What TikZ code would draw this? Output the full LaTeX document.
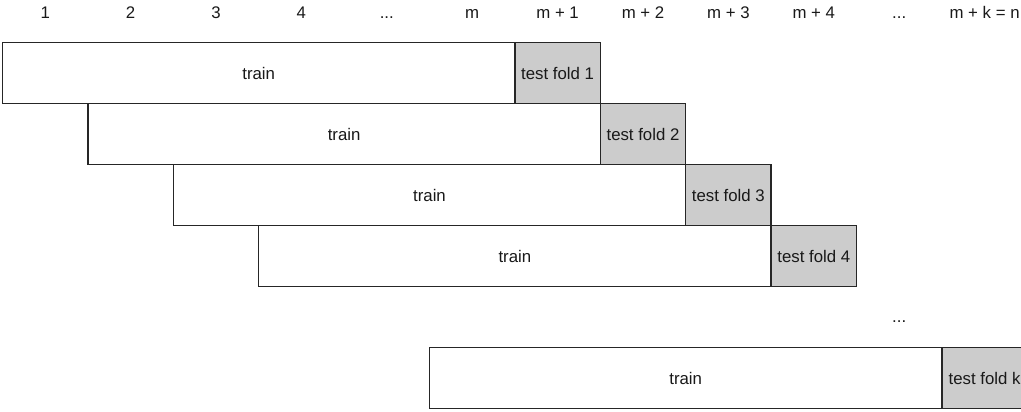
\documentclass[tikz,border=0pt]{standalone}
\usepackage{fontspec}
\setmainfont{Liberation Sans}
\begin{document}
\begin{tikzpicture}[x=1pt,y=-1pt,
  every node/.style={font=\fontsize{16.8}{20}\selectfont, text=black!90},
  trainbox/.style={draw=black!85, line width=1.3pt, fill=white, minimum width=512.4pt, minimum height=61pt, inner sep=0pt},
  testbox/.style={draw=black!85, line width=1.3pt, fill=black!20, minimum width=85.4pt, minimum height=61pt, inner sep=0pt},
  hdr/.style={inner sep=0pt, anchor=base}]
\useasboundingbox (0,0) rectangle (1021,412);
\clip (0,0) rectangle (1021,412);
\def\cw{85.4}
\def\xo{2.5}
\def\yo{42.7}
\def\hy{18.4}
% header labels
\node[hdr] (h0) at ({\xo+0.5*\cw},\hy) {1};
\node[hdr] (h1) at ({\xo+1.5*\cw},\hy) {2};
\node[hdr] (h2) at ({\xo+2.5*\cw},\hy) {3};
\node[hdr] (h3) at ({\xo+3.5*\cw},\hy) {4};
\node[hdr] (h4) at ({\xo+4.5*\cw},\hy) {...};
\node[hdr] (h5) at ({\xo+5.5*\cw},\hy) {m};
\node[hdr] (h6) at ({\xo+6.5*\cw},\hy) {m + 1};
\node[hdr] (h7) at ({\xo+7.5*\cw},\hy) {m + 2};
\node[hdr] (h8) at ({\xo+8.5*\cw},\hy) {m + 3};
\node[hdr] (h9) at ({\xo+9.5*\cw},\hy) {m + 4};
\node[hdr] (h10) at ({\xo+10.5*\cw},\hy) {...};
\node[hdr] (h11) at ({\xo+11.5*\cw},\hy) {m + k = n};
% rows
\foreach \r/\lab in {0/1,1/2,2/3,3/4,5/k}{
  \node[trainbox] (train\lab) at ({\xo+\r*\cw+3*\cw},{\yo+\r*61+30.5}) {train};
  \node[testbox] (test\lab) at ({\xo+\r*\cw+6.5*\cw},{\yo+\r*61+30.5}) {test fold \lab};
}
\node[hdr] (dots) at ({\xo+10.5*\cw},322) {...};
\end{tikzpicture}
\end{document}
